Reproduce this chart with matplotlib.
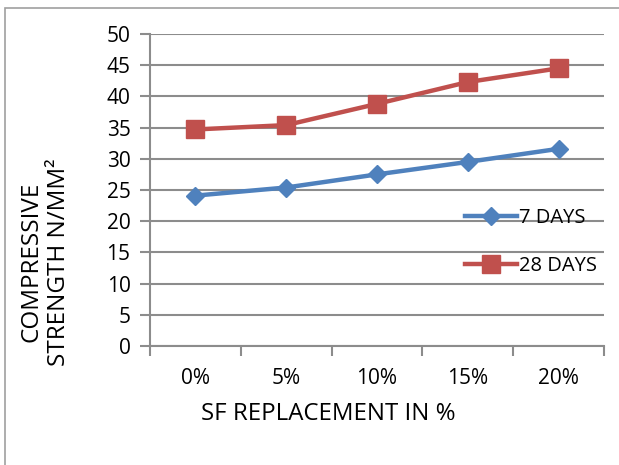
import matplotlib
matplotlib.use("Agg")
import matplotlib.pyplot as plt
from matplotlib.patches import Rectangle

categories = ["0%", "5%", "10%", "15%", "20%"]
days_7 = [24.1, 25.4, 27.5, 29.5, 31.6]
days_28 = [34.7, 35.4, 38.8, 42.3, 44.5]
y_ticks = [0, 5, 10, 15, 20, 25, 30, 35, 40, 45, 50]

plt.rcParams["font.family"] = ["Open Sans", "DejaVu Sans"]

fig = plt.figure(figsize=(6.19, 4.65), dpi=100)
ax = fig.add_axes([150 / 619, 1 - 346 / 465, 454 / 619, 312 / 465])

# chart-area border
fig.patches.append(Rectangle((5 / 619, -0.1), 1.2, 1 - 8 / 465 + 0.1,
                             transform=fig.transFigure, fill=False,
                             edgecolor="#a0a0a0", linewidth=1.2, zorder=0))

grid_c = "#8c8c8c"
x = list(range(len(categories)))
ax.plot(x, days_7, color="#4F81BD", linewidth=3.2, marker="D", markersize=9,
        label="7 DAYS", zorder=3)
ax.plot(x, days_28, color="#C0504D", linewidth=3.2, marker="s", markersize=12.5,
        label="28 DAYS", zorder=3)

ax.set_xlim(-0.5, len(categories) - 0.5)
ax.set_ylim(0, 50)
ax.set_yticks(y_ticks)
ax.set_xticks(x)
ax.set_xticklabels(categories)
ax.set_xticks([i - 0.5 for i in range(len(categories) + 1)], minor=True)
ax.tick_params(axis="x", which="major", length=0, pad=16, labelsize=15)
ax.tick_params(axis="x", which="minor", length=7, width=1.5, color=grid_c, direction="out")
ax.tick_params(axis="y", length=7, width=1.5, color=grid_c, direction="out", pad=7, labelsize=15)

ax.yaxis.grid(True, color=grid_c, linewidth=1.5)
ax.set_axisbelow(True)
for s in ["top", "right"]:
    ax.spines[s].set_visible(False)
for s in ["left", "bottom"]:
    ax.spines[s].set_color(grid_c)
    ax.spines[s].set_linewidth(1.5)

fig.text(328 / 619, 1 - 414 / 465, "SF REPLACEMENT IN %", ha="center", va="center",
         fontsize=17.25)
fig.text(45 / 619, 1 - 262 / 465, "COMPRESSIVE\nSTRENGTH N/MM²", rotation=90,
         ha="center", va="center", fontsize=17.5, linespacing=1.22)

leg = ax.legend(loc="upper left", bbox_to_anchor=(465 / 619, 1 - 208 / 465),
                bbox_transform=fig.transFigure,
                frameon=False, fontsize=14.5, handlelength=2.6, handletextpad=0.1,
                labelspacing=1.4, borderaxespad=0, borderpad=0)

fig.savefig("out.png", dpi=100)
